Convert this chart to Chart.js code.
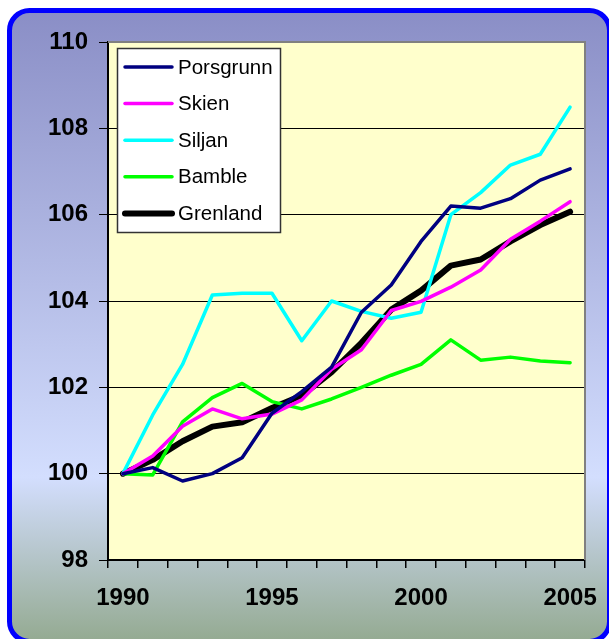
<!DOCTYPE html>
<html><head><meta charset="utf-8">
<script src="https://cdn.jsdelivr.net/npm/chart.js@4/dist/chart.umd.min.js"></script>
<style>html,body{margin:0;padding:0;background:#fff}#wrap{width:609px;height:639px}</style>
</head><body><div id="wrap"><canvas id="c" width="609" height="639"></canvas></div>
<script>
const years = ['1990','1991','1992','1993','1994','1995','1996','1997','1998','1999','2000','2001','2002','2003','2004','2005'];
const shownYears = ['1990','1995','2000','2005'];
const yTicks = [98, 100, 102, 104, 106, 108, 110];
const porsgrunn = [100, 100.14, 99.83, 100.0, 100.37, 101.4, 101.9, 102.47, 103.74, 104.37, 105.38, 106.2, 106.15, 106.37, 106.8, 107.06];
const skien     = [100, 100.41, 101.1, 101.5, 101.27, 101.38, 101.71, 102.42, 102.87, 103.78, 103.99, 104.32, 104.72, 105.43, 105.85, 106.3];
const siljan    = [100, 101.36, 102.53, 104.14, 104.18, 104.18, 103.08, 104.0, 103.76, 103.6, 103.74, 106.0, 106.51, 107.15, 107.4, 108.49];
const bamble    = [100, 99.97, 101.2, 101.76, 102.09, 101.67, 101.5, 101.73, 102.0, 102.28, 102.53, 103.1, 102.63, 102.7, 102.61, 102.57];
const grenland  = [100, 100.32, 100.75, 101.09, 101.19, 101.52, 101.81, 102.35, 103.03, 103.8, 104.24, 104.82, 104.96, 105.38, 105.76, 106.07];

const FONT = '"Liberation Sans", Arial, sans-serif';

const bgPlugin = {
  id: 'bg',
  beforeDraw(chart) {
    const ctx = chart.ctx, W = chart.width, H = chart.height;
    ctx.save();
    ctx.fillStyle = '#ffffff';
    ctx.fillRect(0, 0, W, H);
    const x = 9.5, y = 10.5, w = 600, h = 631, r = 20;
    const g = ctx.createLinearGradient(0, y, 0, y + h);
    g.addColorStop(0, '#8a8ec6');
    g.addColorStop(0.74, '#d3defe');
    g.addColorStop(1, '#94aa91');
    ctx.beginPath();
    ctx.moveTo(x + r, y);
    ctx.lineTo(x + w - r, y);
    ctx.arcTo(x + w, y, x + w, y + r, r);
    ctx.lineTo(x + w, y + h - r);
    ctx.arcTo(x + w, y + h, x + w - r, y + h, r);
    ctx.lineTo(x + r, y + h);
    ctx.arcTo(x, y + h, x, y + h - r, r);
    ctx.lineTo(x, y + r);
    ctx.arcTo(x, y, x + r, y, r);
    ctx.closePath();
    ctx.fillStyle = g;
    ctx.fill();
    ctx.lineWidth = 5;
    ctx.strokeStyle = '#0000ff';
    ctx.stroke();
    const a = chart.chartArea;
    ctx.fillStyle = '#ffffcc';
    ctx.fillRect(a.left, a.top, a.right - a.left, a.bottom - a.top);
    ctx.restore();
  },
  beforeDatasetsDraw(chart) {
    const ctx = chart.ctx, a = chart.chartArea;
    ctx.save();
    ctx.strokeStyle = '#808080';
    ctx.lineWidth = 2;
    ctx.beginPath();
    ctx.moveTo(a.left, a.top);
    ctx.lineTo(a.right, a.top);
    ctx.lineTo(a.right, a.bottom);
    ctx.stroke();
    ctx.restore();
  },
  afterDatasetsDraw(chart) {
    const ctx = chart.ctx;
    ctx.save();
    const bx = 117.5, by = 48.5, bw = 163, bh = 184;
    ctx.fillStyle = '#ffffff';
    ctx.fillRect(bx, by, bw, bh);
    ctx.strokeStyle = '#333333';
    ctx.lineWidth = 1.5;
    ctx.strokeRect(bx, by, bw, bh);
    ctx.font = '20.5px ' + FONT;
    ctx.textBaseline = 'middle';
    ctx.textAlign = 'left';
    chart.data.datasets.forEach((ds, i) => {
      const yy = 67 + i * 36.6;
      ctx.strokeStyle = ds.borderColor;
      ctx.lineWidth = ds.borderWidth;
      ctx.lineCap = 'round';
      ctx.beginPath();
      ctx.moveTo(125, yy);
      ctx.lineTo(172, yy);
      ctx.stroke();
      ctx.fillStyle = '#000';
      ctx.fillText(ds.label, 178, yy + 1);
    });
    ctx.restore();
  }
};

const mk = (label, data, color, width) => ({
  label, data, borderColor: color, backgroundColor: color, borderWidth: width,
  pointRadius: 0, tension: 0, fill: false, borderJoinStyle: 'round', borderCapStyle: 'round'
});

new Chart(document.getElementById('c'), {
  type: 'line',
  data: {
    labels: years,
    datasets: [
      mk('Porsgrunn', porsgrunn, '#000080', 3.5),
      mk('Skien', skien, '#ff00ff', 3.5),
      mk('Siljan', siljan, '#00ffff', 3.5),
      mk('Bamble', bamble, '#00ff00', 3.5),
      mk('Grenland', grenland, '#000000', 6)
    ]
  },
  plugins: [bgPlugin],
  options: {
    responsive: false,
    animation: false,
    devicePixelRatio: 1,
    layout: { padding: { left: 0, top: 42, right: 24, bottom: 0 } },
    plugins: { legend: { display: false }, tooltip: { enabled: false } },
    scales: {
      x: {
        type: 'category',
        offset: true,
        afterFit: (s) => { s.height = 79; s.paddingLeft = 0; s.paddingRight = 0; },
        grid: { offset: true, drawOnChartArea: false, drawTicks: true, tickLength: 8, tickColor: '#000', lineWidth: 1.5 },
        border: { color: '#000', width: 2 },
        ticks: {
          autoSkip: false, maxRotation: 0, minRotation: 0, padding: 16,
          color: '#000', font: { family: FONT, size: 24, weight: 'bold' },
          callback: function (v) { const l = this.getLabelForValue(v); return shownYears.includes(l) ? l : ''; }
        }
      },
      y: {
        min: yTicks[0], max: yTicks[yTicks.length - 1],
        afterFit: (s) => { s.width = 108; s.paddingTop = 0; s.paddingBottom = 0; },
        afterBuildTicks: (s) => { s.ticks = yTicks.map(v => ({ value: v })); },
        grid: {
          color: (c) => (c.tick && c.tick.value === 110) ? 'rgba(0,0,0,0)' : '#000',
          tickColor: '#000', tickLength: 9, lineWidth: 1
        },
        border: { color: '#000', width: 2 },
        ticks: { padding: 11, color: '#000', font: { family: FONT, size: 24, weight: 'bold' } }
      }
    }
  }
});
</script>
</body></html>
